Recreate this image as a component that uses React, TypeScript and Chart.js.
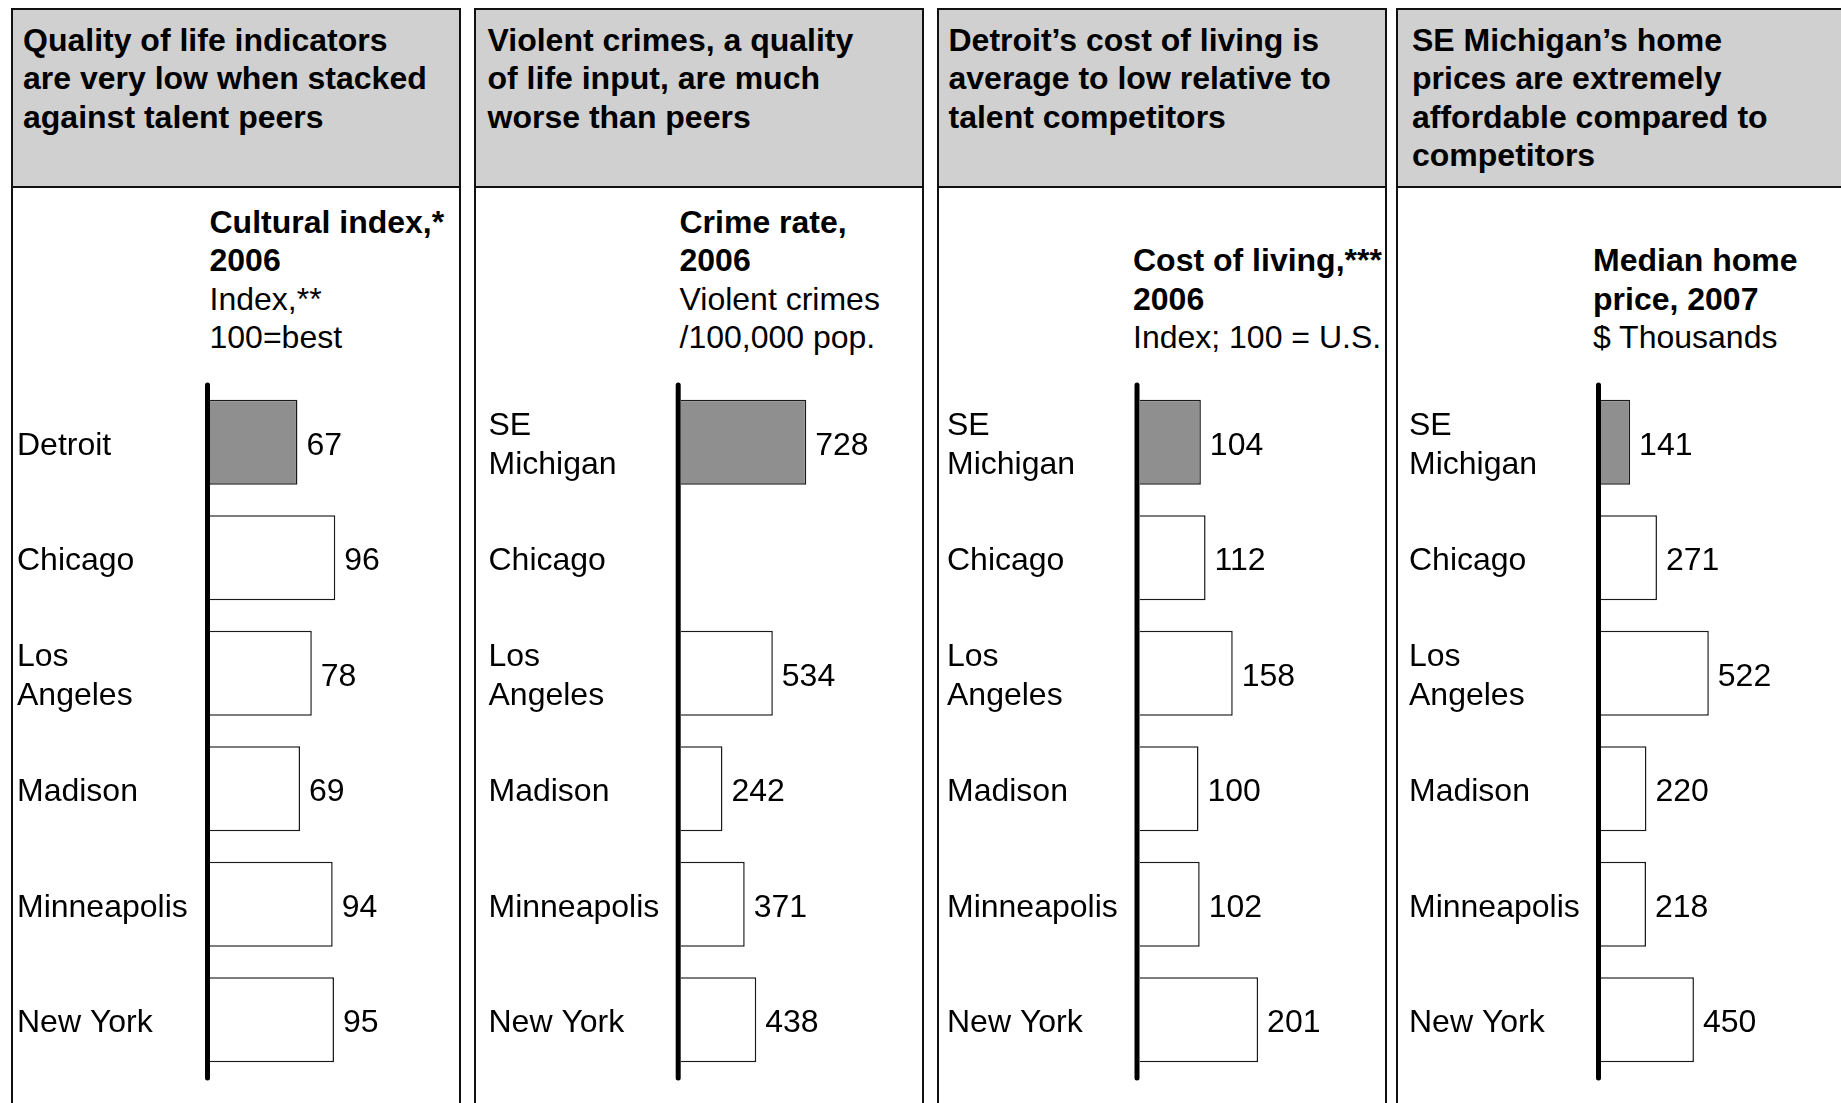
import React, { useEffect, useRef } from "react";
import { Chart, registerables } from "chart.js";

Chart.register(...registerables);

// ---------- data ----------
const citiesDetroit = ["Detroit", "Chicago", ["Los", "Angeles"], "Madison", "Minneapolis", "New York"];
const citiesSEMichigan = [["SE", "Michigan"], "Chicago", ["Los", "Angeles"], "Madison", "Minneapolis", "New York"];

const culturalIndex = [67, 96, 78, 69, 94, 95];
const crimeRate = [728, null, 534, 242, 371, 438];
const costOfLiving = [104, 112, 158, 100, 102, 201];
const homePrice = [141, 271, 522, 220, 218, 450];

const headlines = [
  ["Quality of life indicators", "are very low when stacked", "against talent peers"],
  ["Violent crimes, a quality", "of life input, are much", "worse than peers"],
  ["Detroit\u2019s cost of living is", "average to low relative to", "talent competitors"],
  ["SE Michigan\u2019s home", "prices are extremely", "affordable compared to", "competitors"],
];

const metricBold = [
  ["Cultural index,*", "2006"],
  ["Crime rate,", "2006"],
  ["Cost of living,***", "2006"],
  ["Median home", "price, 2007"],
];
const metricUnits = [
  ["Index,**", "100=best"],
  ["Violent crimes", "/100,000 pop."],
  ["Index; 100 = U.S."],
  ["$ Thousands"],
];

const panelCategories = [citiesDetroit, citiesSEMichigan, citiesSEMichigan, citiesSEMichigan];
const panelValues = [culturalIndex, crimeRate, costOfLiving, homePrice];

// ---------- layout (positions / styles) ----------
const FONT = "'Liberation Sans', Arial, Helvetica, sans-serif";
const FS = 32;
const LH = 38.5;
const TEXT_DY = 3.5;
const PANEL_W = 450;
const CANVAS_W = 446;
const CANVAS_TOP = 360;
const CANVAS_H = 1103 - CANVAS_TOP;

const panels = [
  { left: 11, labelOff: 6, barOff: 199, pxPerUnit: 1.305, headX: 12, subX: 198.5 },
  { left: 474, labelOff: 14.5, barOff: 206.7, pxPerUnit: 0.1725, headX: 13.5, subX: 205.5 },
  { left: 937, labelOff: 10, barOff: 202.5, pxPerUnit: 0.59, headX: 11.5, subX: 196 },
  { left: 1396, labelOff: 13, barOff: 205, pxPerUnit: 0.2065, headX: 16, subX: 197 },
];

const axisLinePlugin = {
  id: "axisLine",
  afterDatasetsDraw(chart: any) {
    const { ctx, chartArea } = chart;
    ctx.save();
    ctx.strokeStyle = "#000";
    ctx.lineWidth = 5;
    ctx.lineCap = "round";
    ctx.beginPath();
    ctx.moveTo(chartArea.left - 2.5, chartArea.top + 0.5);
    ctx.lineTo(chartArea.left - 2.5, chartArea.bottom + 0.5);
    ctx.stroke();
    ctx.restore();
  },
};

// nudge category tick labels down a little so their optical centre matches the bars
const tickShiftPlugin = {
  id: "tickShift",
  beforeDraw(chart: any) {
    const s = chart.scales.y;
    if (!s) return;
    const items = s.getLabelItems();
    if ((items as any)._shifted) return;
    items.forEach((it: any) => {
      it.textOffset += TEXT_DY;
    });
    (items as any)._shifted = true;
  },
};

const valueLabelPlugin = {
  id: "valueLabels",
  afterDatasetsDraw(chart: any) {
    const { ctx } = chart;
    const meta = chart.getDatasetMeta(0);
    const data = chart.data.datasets[0].data;
    ctx.save();
    ctx.fillStyle = "#000";
    ctx.font = `${FS}px ${FONT}`;
    ctx.textAlign = "left";
    ctx.textBaseline = "middle";
    meta.data.forEach((bar: any, i: number) => {
      const v = data[i];
      if (v === null || v === undefined) return;
      ctx.fillText(String(v), bar.x + 9, bar.y + TEXT_DY);
    });
    ctx.restore();
  },
};

export default function App() {
  const canvasRefs = useRef<(HTMLCanvasElement | null)[]>([]);

  useEffect(() => {
    const charts: Chart[] = [];
    panels.forEach((p, idx) => {
      const canvas = canvasRefs.current[idx];
      if (!canvas) return;
      const values = panelValues[idx];
      const chartLeft = p.barOff - 2;
      const xMax = (CANVAS_W - chartLeft) / p.pxPerUnit;
      const scaleWidth = p.barOff - p.labelOff;
      const chart = new Chart(canvas, {
        type: "bar",
        data: {
          labels: panelCategories[idx] as any,
          datasets: [
            {
              data: values as any,
              backgroundColor: values.map((_, i) => (i === 0 ? "#8f8f8f" : "#ffffff")),
              borderColor: "#1a1a1a",
              borderWidth: 1.5,
              borderSkipped: "start",
              categoryPercentage: 1,
              barPercentage: 0.735,
            },
          ],
        },
        options: {
          indexAxis: "y",
          animation: false,
          responsive: false,
          maintainAspectRatio: false,
          devicePixelRatio: 1,
          events: [],
          layout: {
            padding: { left: p.labelOff - 2, top: 24.5, bottom: 25.5, right: 0 },
          },
          plugins: {
            legend: { display: false },
            tooltip: { enabled: false },
            title: { display: false },
          },
          scales: {
            x: { type: "linear", display: false, min: 0, max: xMax },
            y: {
              type: "category",
              grid: { display: false, drawTicks: false },
              border: { display: false },
              ticks: {
                autoSkip: false,
                crossAlign: "far",
                padding: 0,
                color: "#000",
                font: { family: FONT, size: FS, lineHeight: LH / FS },
              },
              afterFit: (scale: any) => {
                scale.width = scaleWidth;
                scale.paddingTop = 0;
                scale.paddingBottom = 0;
                scale.paddingLeft = 0;
                scale.paddingRight = 0;
              },
            },
          },
        },
        plugins: [axisLinePlugin, valueLabelPlugin, tickShiftPlugin],
      });
      charts.push(chart);
    });
    return () => charts.forEach((c) => c.destroy());
  }, []);

  return (
    <div
      style={{
        position: "fixed",
        left: 0,
        top: 0,
        width: 1841,
        height: 1103,
        overflow: "hidden",
        background: "#fff",
        fontFamily: FONT,
        color: "#000",
      }}
    >
      {panels.map((p, idx) => {
        const subLines = metricBold[idx].length + metricUnits[idx].length;
        const subTop = 356.85 - subLines * LH - 10;
        return (
          <div
            key={idx}
            style={{
              position: "absolute",
              left: p.left,
              top: 8,
              width: PANEL_W,
              height: 1200,
              border: "2px solid #111",
              boxSizing: "border-box",
              background: "#fff",
            }}
          >
            <div
              style={{
                position: "absolute",
                left: 0,
                top: 0,
                width: PANEL_W - 4,
                height: 178,
                boxSizing: "border-box",
                borderBottom: "2px solid #111",
                background: "#d0d0d0",
              }}
            >
              <div
                style={{
                  position: "absolute",
                  left: p.headX - 2,
                  top: 10.5,
                  fontWeight: "bold",
                  fontSize: FS,
                  lineHeight: `${LH}px`,
                  whiteSpace: "nowrap",
                }}
              >
                {headlines[idx].map((line, i) => (
                  <div key={i}>{line}</div>
                ))}
              </div>
            </div>
            <div
              style={{
                position: "absolute",
                left: p.subX - 2,
                top: subTop,
                fontSize: FS,
                lineHeight: `${LH}px`,
                whiteSpace: "nowrap",
              }}
            >
              {metricBold[idx].map((line, i) => (
                <div key={"b" + i} style={{ fontWeight: "bold" }}>
                  {line}
                </div>
              ))}
              {metricUnits[idx].map((line, i) => (
                <div key={"u" + i}>{line}</div>
              ))}
            </div>
            <canvas
              ref={(el) => {
                canvasRefs.current[idx] = el;
              }}
              width={CANVAS_W}
              height={CANVAS_H}
              style={{
                position: "absolute",
                left: 0,
                top: CANVAS_TOP - 10,
                width: CANVAS_W,
                height: CANVAS_H,
              }}
            />
          </div>
        );
      })}
    </div>
  );
}
